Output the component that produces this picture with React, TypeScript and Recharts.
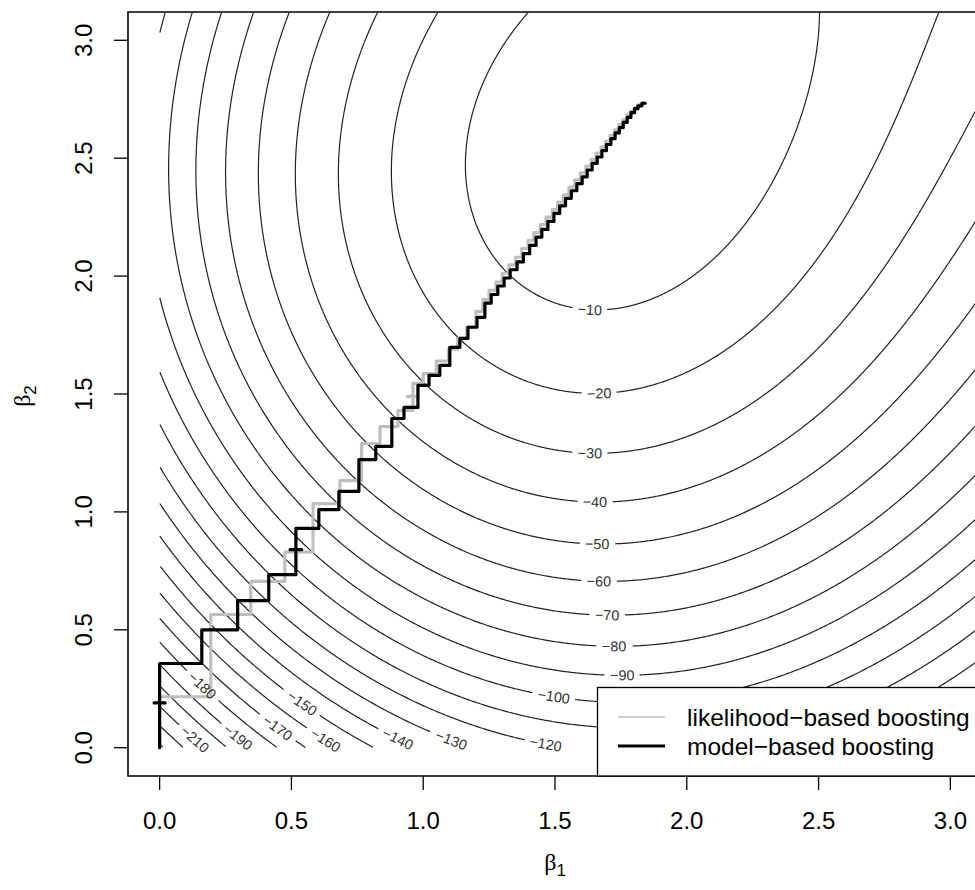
import React from 'react';
import { ComposedChart, Line, Scatter, XAxis, YAxis, ReferenceArea } from 'recharts';

// contour levels of the log-likelihood surface
const levels = [-10, -20, -30, -40, -50, -60, -70, -80, -90, -100, -110, -120, -130, -140, -150, -160, -170, -180, -190, -200, -210, -220, -230];

// points: level, beta1, beta2
const traceLevel = [
  -10, -10, -10, -10, -10, -10, -10, -10, -10, -10, -10,
  -20, -20, -20, -20, -20, -20, -20, -20, -20,
  -30, -30, -30, -30, -30, -30, -30,
  -40, -40, -40, -40,
  -50, -50, -60, -60, -70, -70, -80, -80, -90, -90,
  -100, -100, -110, -110, -120, -120, -130, -130, -140, -140, -150,
];
const traceB1 = [
  1.337, 2.586, 1.341, 2.04, 1.151, 2.57, 2.507, 2.404, 2.279, 2.089, 1.861,
  1.048, 2.909, 0.976, 1.151, 2.86, 2.784, 2.685, 2.556, 2.381,
  0.832, 0.911, 0.987, 3.095, 3.012, 2.887, 2.659,
  0.653, 0.911, 3.095, 3.076,
  0.501, 0.911, 0.365, 0.911, 0.239, 0.911, 0.125, 0.911, 0, 0.911,
  0.911, 2.229, 0.911, 2.537, 2.772, 1.519, 2.962, 1.177, 3.076, 0.98, 0.824,
];
const traceB2 = [
  3.12, 3.12, 1.982, 1.982, 2.534, 2.885, 2.673, 2.461, 2.249, 2.066, 1.897,
  3.12, 3.12, 1.982, 1.757, 2.885, 2.673, 2.461, 2.249, 1.897,
  3.12, 1.651, 1.545, 2.843, 2.605, 2.363, 1.897,
  3.12, 1.375, 2.309, 1.897,
  3.12, 1.163, 3.12, 0.976, 3.12, 0.823, 3.12, 0.688, 3.056, 0.552,
  0.424, 0.255, 0.306, 0.255, 0.255, 0, 0.255, 0, 0.255, 0, 0,
];

// contour labels: level and where it sits
const labelLevel = [-10, -20, -30, -40, -50, -60, -70, -80, -90, -100, -120, -130, -140, -150, -160, -170, -180, -190, -210];
const labelB1 = [1.633, 1.667, 1.633, 1.652, 1.66, 1.667, 1.698, 1.724, 1.755, 1.493, 1.462, 1.109, 0.904, 0.532, 0.634, 0.448, 0.152, 0.304, 0.14];
const labelB2 = [1.865, 1.522, 1.269, 1.061, 0.879, 0.717, 0.569, 0.433, 0.306, 0.204, 0.004, 0.038, 0.038, 0.178, 0.038, 0.085, 0.255, 0.051, 0.042];

// likelihood-based boosting: coefficients after each update
const likB1 = [
  0, 0, 0.194, 0.194, 0.346, 0.346, 0.475, 0.475, 0.582, 0.582, 0.684, 0.684, 0.766, 0.766, 0.836, 0.836,
  0.904, 0.904, 0.961, 0.961, 0.94, 0.982, 0.961, 0.961, 1.0, 1.0, 1.05, 1.05, 1.096, 1.096, 1.13, 1.13,
  1.165, 1.165, 1.2, 1.2, 1.226, 1.226, 1.25, 1.25, 1.276, 1.276, 1.3, 1.3, 1.325, 1.325, 1.35, 1.35,
  1.374, 1.374, 1.398, 1.398, 1.42, 1.42, 1.444, 1.444, 1.466, 1.466, 1.49, 1.49, 1.51, 1.51, 1.532, 1.532,
  1.553, 1.553, 1.575, 1.575, 1.596, 1.596, 1.617, 1.617, 1.637, 1.637, 1.656, 1.656, 1.675, 1.675,
  1.692, 1.692, 1.709, 1.709, 1.726, 1.726, 1.742, 1.742, 1.757, 1.757, 1.772, 1.772, 1.786, 1.786,
  1.8, 1.8, 1.813, 1.813, 1.827, 1.827, 1.84,
];
const likB2 = [
  0, 0.216, 0.216, 0.565, 0.565, 0.705, 0.705, 0.829, 0.829, 1.035, 1.035, 1.133, 1.133, 1.29, 1.29, 1.362,
  1.362, 1.43, 1.43, 1.49, 1.49, 1.49, 1.49, 1.545, 1.545, 1.587, 1.587, 1.64, 1.64, 1.69, 1.69, 1.736,
  1.736, 1.784, 1.784, 1.85, 1.85, 1.9, 1.9, 1.94, 1.94, 1.975, 1.975, 2.012, 2.012, 2.048, 2.048, 2.08,
  2.08, 2.117, 2.117, 2.152, 2.152, 2.185, 2.185, 2.218, 2.218, 2.25, 2.25, 2.282, 2.282, 2.314, 2.314, 2.345,
  2.345, 2.377, 2.377, 2.408, 2.408, 2.438, 2.438, 2.467, 2.467, 2.495, 2.495, 2.522, 2.522, 2.548,
  2.548, 2.573, 2.573, 2.597, 2.597, 2.62, 2.62, 2.642, 2.642, 2.663, 2.663, 2.683, 2.683, 2.7,
  2.7, 2.714, 2.714, 2.726, 2.726, 2.734, 2.734,
];

// model-based boosting: coefficients after each update
const modB1 = [
  0, 0, -0.021, 0.021, 0, 0, 0.16, 0.16, 0.296, 0.296, 0.414, 0.414, 0.517, 0.517, 0.495, 0.539, 0.517, 0.517,
  0.604, 0.604, 0.68, 0.68, 0.756, 0.756, 0.82, 0.82, 0.881, 0.881, 0.927, 0.927, 0.98, 0.98, 1.022, 1.022,
  1.063, 1.063, 1.101, 1.101, 1.139, 1.139, 1.17, 1.17, 1.204, 1.204, 1.234, 1.234,
  1.258, 1.258, 1.283, 1.283, 1.307, 1.307, 1.33, 1.33, 1.356, 1.356, 1.38, 1.38, 1.404, 1.404, 1.428, 1.428,
  1.45, 1.45, 1.473, 1.473, 1.496, 1.496, 1.518, 1.518, 1.54, 1.54, 1.562, 1.562, 1.583, 1.583, 1.603, 1.603,
  1.622, 1.622, 1.641, 1.641, 1.66, 1.66, 1.678, 1.678, 1.695, 1.695, 1.712, 1.712, 1.728, 1.728, 1.744, 1.744,
  1.759, 1.759, 1.774, 1.774, 1.788, 1.788, 1.802, 1.802, 1.815, 1.815, 1.83, 1.83, 1.842,
];
const modB2 = [
  0, 0.19, 0.19, 0.19, 0.19, 0.357, 0.357, 0.5, 0.5, 0.624, 0.624, 0.734, 0.734, 0.84, 0.84, 0.84, 0.84, 0.93,
  0.93, 1.01, 1.01, 1.087, 1.087, 1.222, 1.222, 1.278, 1.278, 1.396, 1.396, 1.443, 1.443, 1.537, 1.537, 1.579,
  1.579, 1.621, 1.621, 1.698, 1.698, 1.736, 1.736, 1.783, 1.783, 1.825, 1.825, 1.885,
  1.885, 1.922, 1.922, 1.958, 1.958, 1.992, 1.992, 2.027, 2.027, 2.06, 2.06, 2.095, 2.095, 2.13, 2.13, 2.165,
  2.165, 2.198, 2.198, 2.232, 2.232, 2.266, 2.266, 2.298, 2.298, 2.33, 2.33, 2.362, 2.362, 2.392, 2.392, 2.421,
  2.421, 2.45, 2.45, 2.478, 2.478, 2.505, 2.505, 2.532, 2.532, 2.558, 2.558, 2.583, 2.583, 2.607, 2.607, 2.63,
  2.63, 2.652, 2.652, 2.673, 2.673, 2.693, 2.693, 2.71, 2.71, 2.722, 2.722, 2.733, 2.733,
];

const ticks = [0, 0.5, 1, 1.5, 2, 2.5, 3];

// chart geometry
const W = 1000;
const H = 890;
const LO = -0.12;
const HI = 3.12;
const PLOT_W = 854;
const PLOT_H = 764;
const SX = PLOT_W / (HI - LO);
const SY = PLOT_H / (HI - LO);
const FONT = '"Liberation Sans", Arial, Helvetica, sans-serif';
const SERIF = '"Liberation Serif", "Times New Roman", serif';
const MINUS = '\u2212';

// cubic surface fitted to the traced contour points (label anchors weigh more)
const fitSurface = () => {
  const xs = [...traceB1, ...labelB1];
  const ys = [...traceB2, ...labelB2];
  const zs = [...traceLevel, ...labelLevel];
  const ws = [...traceB1.map(() => 1), ...labelB1.map(() => 3)];
  const n = 10;
  const A = Array.from({ length: n }, () => new Array(n).fill(0));
  const b = new Array(n).fill(0);
  xs.forEach((x, i) => {
    const u = x - 1.5;
    const v = ys[i] - 1.5;
    const phi = [1, u, v, u * u, u * v, v * v, u * u * u, u * u * v, u * v * v, v * v * v];
    for (let r = 0; r < n; r++) {
      b[r] += ws[i] * phi[r] * zs[i];
      for (let c = 0; c < n; c++) A[r][c] += ws[i] * phi[r] * phi[c];
    }
  });
  for (let r = 0; r < n; r++) A[r][r] += 1e-6;
  const M = A.map((row, i) => [...row, b[i]]);
  for (let c = 0; c < n; c++) {
    let p = c;
    for (let r = c + 1; r < n; r++) if (Math.abs(M[r][c]) > Math.abs(M[p][c])) p = r;
    [M[c], M[p]] = [M[p], M[c]];
    for (let r = 0; r < n; r++) {
      if (r === c) continue;
      const f = M[r][c] / M[c][c];
      for (let k = c; k <= n; k++) M[r][k] -= f * M[c][k];
    }
  }
  return M.map((row, i) => row[n] / row[i]);
};

const coef = fitSurface();

const surface = (b1: number, b2: number) => {
  const u = b1 - 1.5;
  const v = b2 - 1.5;
  const c = coef;
  return c[0] + c[1] * u + c[2] * v + c[3] * u * u + c[4] * u * v + c[5] * v * v +
    c[6] * u * u * u + c[7] * u * u * v + c[8] * u * v * v + c[9] * v * v * v;
};

const gradient = (b1: number, b2: number) => {
  const h = 1e-4;
  return [
    (surface(b1 + h, b2) - surface(b1 - h, b2)) / (2 * h),
    (surface(b1, b2 + h) - surface(b1, b2 - h)) / (2 * h),
  ];
};

type Pt = { x: number; y: number | null };

// trace every level by casting rays out from the peak of the surface
const buildContours = () => {
  let peak = [1.9, 2.8];
  let best = -Infinity;
  for (let x = 0.5; x <= HI; x += 0.01) {
    for (let y = 1.5; y <= HI; y += 0.01) {
      const f = surface(x, y);
      if (f > best) { best = f; peak = [x, y]; }
    }
  }
  const out: Pt[][] = levels.map(() => []);
  const rays = 2400;
  const dr = 0.004;
  for (let k = 0; k <= rays; k++) {
    const th = Math.PI / 2 + (2 * Math.PI * k) / rays;
    const dx = Math.cos(th);
    const dy = Math.sin(th);
    let rmax = Infinity;
    if (dx > 1e-9) rmax = Math.min(rmax, (HI - peak[0]) / dx);
    if (dx < -1e-9) rmax = Math.min(rmax, -peak[0] / dx);
    if (dy > 1e-9) rmax = Math.min(rmax, (HI - peak[1]) / dy);
    if (dy < -1e-9) rmax = Math.min(rmax, -peak[1] / dy);
    const hits: (number[] | null)[] = levels.map(() => null);
    let next = 0;
    let prevR = 0;
    let prevF = surface(peak[0], peak[1]);
    let r = 0;
    while (r < rmax && next < levels.length) {
      r = Math.min(r + dr, rmax);
      const f = surface(peak[0] + r * dx, peak[1] + r * dy);
      while (next < levels.length && f <= levels[next]) {
        const t = prevF === f ? 1 : (prevF - levels[next]) / (prevF - f);
        const rr = prevR + t * (r - prevR);
        hits[next] = [peak[0] + rr * dx, peak[1] + rr * dy];
        next++;
      }
      prevR = r;
      prevF = f;
    }
    hits.forEach((h, i) => {
      const line = out[i];
      if (h) line.push({ x: h[0], y: h[1] });
      else line.push({ x: line.length ? line[line.length - 1].x : 0, y: null });
    });
  }
  return out;
};

// label anchors moved onto their contour, turned along it
const labels = labelLevel.map((level, i) => {
  let x = labelB1[i];
  let y = labelB2[i];
  for (let k = 0; k < 6; k++) {
    const [gx, gy] = gradient(x, y);
    const g2 = gx * gx + gy * gy;
    const d = (surface(x, y) - level) / g2;
    x -= d * gx;
    y -= d * gy;
  }
  const [gx, gy] = gradient(x, y);
  let angle = (Math.atan2(-gx * SY, -gy * SX) * 180) / Math.PI;
  if (angle > 90) angle -= 180;
  if (angle <= -90) angle += 180;
  const text = `${MINUS}${Math.abs(level)}`;
  const width = (0.584 + 0.556 * (text.length - 1)) * 14.4;
  return { x, y, level, angle, text, width };
});

const contours = buildContours().map((line, li) => {
  const own = labels.filter((l) => l.level === levels[li]);
  return line.map((p) => {
    if (p.y === null) return p;
    for (const l of own) {
      const ex = (p.x - l.x) * SX;
      const ey = -(p.y - l.y) * SY;
      const a = (l.angle * Math.PI) / 180;
      const along = ex * Math.cos(a) + ey * Math.sin(a);
      const across = -ex * Math.sin(a) + ey * Math.cos(a);
      if (Math.abs(along) < l.width / 2 + 5 && Math.abs(across) < 8) return { x: p.x, y: null };
    }
    return p;
  });
});

const likPath = likB1.map((x, i) => ({ x, y: likB2[i] }));
const modPath = modB1.map((x, i) => ({ x, y: modB2[i] }));

const XTick = (props: any) => (
  <text x={props.x} y={829} textAnchor="middle" fontFamily={FONT} fontSize={24} fill="#000">
    {Number(props.payload.value).toFixed(1)}
  </text>
);

const YTick = (props: any) => (
  <text
    x={92}
    y={props.y}
    transform={`rotate(-90 92 ${props.y})`}
    textAnchor="middle"
    fontFamily={FONT}
    fontSize={24}
    fill="#000"
  >
    {Number(props.payload.value).toFixed(1)}
  </text>
);

const LevelLabel = (props: any) => {
  const { cx, cy, payload } = props;
  return (
    <text
      x={cx}
      y={cy}
      transform={`rotate(${payload.angle} ${cx} ${cy})`}
      textAnchor="middle"
      dominantBaseline="central"
      fontFamily={FONT}
      fontSize={14.4}
      fill="#333"
    >
      {payload.text}
    </text>
  );
};

export default function App() {
  return (
    <div style={{ position: 'absolute', left: 0, top: 0, width: 975, height: 890, overflow: 'hidden', background: '#fff' }}>
      <ComposedChart width={W} height={H} margin={{ top: 12, right: 18, bottom: 14, left: 28 }}>
        <XAxis
          dataKey="x"
          type="number"
          domain={[LO, HI]}
          ticks={ticks}
          allowDataOverflow
          axisLine={false}
          tickSize={14}
          tickMargin={0}
          tickLine={{ stroke: '#000', strokeWidth: 1.3 }}
          tick={XTick}
          height={100}
        />
        <YAxis
          dataKey="y"
          type="number"
          domain={[LO, HI]}
          ticks={ticks}
          allowDataOverflow
          axisLine={false}
          tickSize={14}
          tickMargin={0}
          tickLine={{ stroke: '#000', strokeWidth: 1.3 }}
          tick={YTick}
          width={100}
        />
        {contours.map((data, i) => (
          <Line
            key={levels[i]}
            data={data}
            dataKey="y"
            type="linear"
            stroke="#222"
            strokeWidth={1.2}
            dot={false}
            activeDot={false}
            isAnimationActive={false}
          />
        ))}
        <Scatter data={labels} dataKey="y" shape={LevelLabel} isAnimationActive={false} />
        <Line
          data={likPath}
          dataKey="y"
          type="linear"
          stroke="#bebebe"
          strokeWidth={3.2}
          strokeLinejoin="round"
          strokeLinecap="round"
          dot={false}
          activeDot={false}
          isAnimationActive={false}
        />
        <Line
          data={modPath}
          dataKey="y"
          type="linear"
          stroke="#000"
          strokeWidth={3.2}
          strokeLinejoin="round"
          strokeLinecap="round"
          dot={false}
          activeDot={false}
          isAnimationActive={false}
        />
        <ReferenceArea x1={LO} x2={HI} y1={LO} y2={HI} fill="none" stroke="#000" strokeWidth={1.6} />
      </ComposedChart>
      <svg width={975} height={890} style={{ position: 'absolute', left: 0, top: 0, pointerEvents: 'none' }}>
        <text x={555} y={870} textAnchor="middle" fontFamily={SERIF} fontSize={24}>
          β<tspan fontFamily={FONT} fontSize={17} dy={6}>1</tspan>
        </text>
        <text x={0} y={0} transform="translate(30 396) rotate(-90)" textAnchor="middle" fontFamily={SERIF} fontSize={24}>
          β<tspan fontFamily={FONT} fontSize={17} dy={6}>2</tspan>
        </text>
        <rect x={597.5} y={687.5} width={400} height={88.5} fill="#fff" stroke="#000" strokeWidth={1.3} />
        <line x1={618} x2={665} y1={717} y2={717} stroke="#bebebe" strokeWidth={1.6} />
        <line x1={618} x2={665} y1={746} y2={746} stroke="#000" strokeWidth={3.2} />
        <text x={687} y={726} fontFamily={FONT} fontSize={24.5} fill="#000">likelihood{MINUS}based boosting</text>
        <text x={687} y={755} fontFamily={FONT} fontSize={24.5} fill="#000">model{MINUS}based boosting</text>
      </svg>
    </div>
  );
}
